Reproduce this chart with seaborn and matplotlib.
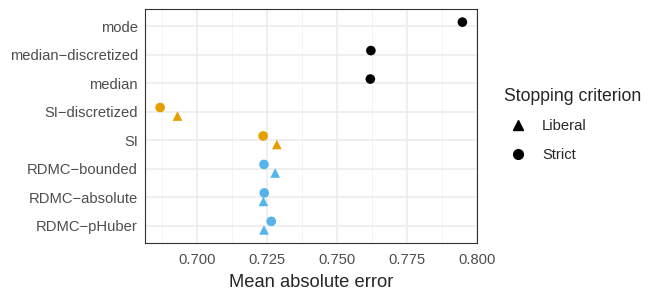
import numpy as np
import pandas as pd
import matplotlib
matplotlib.use("Agg")
import matplotlib.pyplot as plt
from matplotlib.lines import Line2D
from matplotlib.ticker import MultipleLocator
import seaborn as sns

sns.set_style("white")
plt.rcParams['font.family'] = ['Liberation Sans', 'DejaVu Sans']

# data
methods = ["RDMC−pHuber", "RDMC−absolute", "RDMC−bounded", "SI",
           "SI−discretized", "median", "median−discretized", "mode"]
groups = ["RDMC", "RDMC", "RDMC", "SI", "SI", "other", "other", "other"]
strict_mae = [0.7266, 0.7241, 0.7240, 0.7237, 0.6869, 0.7620, 0.7622, 0.7949]
liberal_mae = [0.7240, 0.7238, 0.7280, 0.7286, 0.6931, np.nan, np.nan, np.nan]

palette = {"RDMC": "#56B4E9", "SI": "#E69F00", "other": "#000000"}
markers = {"Liberal": "^", "Strict": "o"}

rows = []
for i, (m, g) in enumerate(zip(methods, groups)):
    rows.append(dict(method=m, group=g, criterion="Strict", mae=strict_mae[i], pos=i + 0.15))
    if not np.isnan(liberal_mae[i]):
        rows.append(dict(method=m, group=g, criterion="Liberal", mae=liberal_mae[i], pos=i - 0.15))
df = pd.DataFrame(rows)

fig = plt.figure(figsize=(6.64, 2.97), dpi=100)
ax = fig.add_axes([0.2184, 0.1828, 0.4995, 0.7859])

sns.scatterplot(data=df, x="mae", y="pos", hue="group", palette=palette,
                style="criterion", markers=markers, s=48, linewidth=0,
                legend=False, ax=ax, zorder=3)

ax.set_xlim(0.6815, 0.800)
ax.set_ylim(-0.6, len(methods) - 0.4)
ax.set_yticks(range(len(methods)))
ax.set_yticklabels(methods)
ax.xaxis.set_major_locator(MultipleLocator(0.025))
ax.xaxis.set_minor_locator(MultipleLocator(0.0125))
ax.xaxis.set_major_formatter(matplotlib.ticker.FormatStrFormatter('%.3f'))

ax.grid(True, which="major", color="#EBEBEB", linewidth=1.1, zorder=0)
ax.grid(True, which="minor", axis="x", color="#F2F2F2", linewidth=0.6, zorder=0)
ax.set_axisbelow(True)
for sp in ax.spines.values():
    sp.set_color("#333333")
    sp.set_linewidth(0.8)

ax.tick_params(axis="both", which="major", length=3, width=0.8, color="#333333",
               labelsize=10.6, labelcolor="#4D4D4D", pad=2)
ax.tick_params(axis="x", which="major", pad=4.5)
ax.tick_params(axis="x", which="minor", length=0)
ax.set_xlabel("Mean absolute error", fontsize=13.2, labelpad=5)
ax.set_ylabel("")

handles = [Line2D([], [], marker="^", color="black", linestyle="", markersize=7),
           Line2D([], [], marker="o", color="black", linestyle="", markersize=7)]
leg = fig.legend(handles, ["Liberal", "Strict"], title="Stopping criterion",
                 loc="upper left", bbox_to_anchor=(0.743, 0.74), frameon=False,
                 fontsize=10.6, title_fontsize=12.7, handletextpad=0.6,
                 labelspacing=1.0, borderpad=0.2)
leg._legend_box.align = "left"

fig.savefig("out.png", dpi=100)
